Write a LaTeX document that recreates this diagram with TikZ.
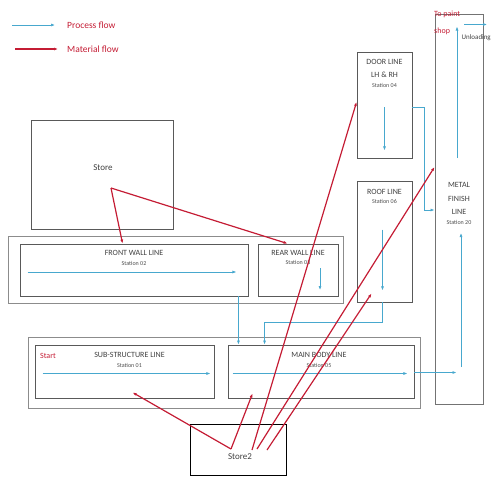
\documentclass[tikz,border=0pt]{standalone}
\usepackage{fontspec}
\setmainfont{Carlito}
\usepackage{tikz}
\usetikzlibrary{arrows.meta,calc,fit,positioning}
\definecolor{procblue}{RGB}{72,168,206}
\definecolor{matred}{RGB}{196,28,52}

\begin{document}
\begin{tikzpicture}[x=1pt,y=-1pt,>={Latex[length=4pt,width=3pt]},
  box/.style={draw=black!65,line width=0.9pt,inner sep=0pt},
  frame/.style={draw=black!45,line width=1pt,inner sep=0pt},
  ttl/.style={font=\fontsize{8}{13.5}\selectfont,text=black!75,align=center,inner sep=0.5pt},
  stn/.style={font=\fontsize{6}{7}\selectfont,text=black!70,inner sep=0.5pt},
  lgd/.style={font=\fontsize{9.5}{17}\selectfont,text=matred,inner sep=0pt,align=left},
  proc/.style={->,procblue,line width=0.7pt},
  mat/.style={->,matred,line width=1.2pt}]
\useasboundingbox (0,0) rectangle (494,477);
% legend
\node[lgd,anchor=west] (lgp) at (67,25) {Process flow};
\node[lgd,anchor=west] (lgm) at (67,49) {Material flow};
\draw[proc] ([xshift=-55pt]lgp.west) -- ([xshift=-12pt]lgp.west);
\draw[mat] ([xshift=-52pt]lgm.west) -- ([xshift=-9pt]lgm.west);
% stores
\node[box,fit={(31,120) (173,229)}] (store) {};
\node[ttl,font=\fontsize{9}{10}\selectfont] at (103,168) {Store};
\node[box,draw=black,fit={(190,424) (286,475)}] (store2) {};
\node[ttl,font=\fontsize{9}{10}\selectfont] at (240,457) {Store2};
% lines
\node[frame,fit={(8,236) (343,303)}] (row1) {};
\node[box,fit={(20,244) (248,296)}] (fwall) {};
\node[box,fit={(258,244) (338,296)}] (rwall) {};
\node[frame,fit={(28,337) (420,408)}] (row2) {};
\node[box,fit={(35,345) (214,398)}] (subs) {};
\node[box,fit={(228,345) (414,398)}] (mbody) {};
\node[box,fit={(357,52) (412,158)}] (door) {};
\node[box,fit={(357,181) (412,302)}] (roof) {};
\node[frame,draw=black!55,fit={(435,14) (483,404)}] (metal) {};
% titles
\node[ttl,below=6.5pt of fwall.north] (fwallt) {FRONT WALL LINE};
\node[stn,below=3.5pt of fwallt] {Station 02};
\node[ttl,below=6.5pt of rwall.north] (rwallt) {REAR WALL LINE};
\node[stn,below=3.5pt of rwallt] {Station 03};
\node[ttl,below=7pt of door.north] (doort) {DOOR LINE\\LH \& RH};
\node[stn,below=3.5pt of doort] {Station 04};
\node[ttl,below=8pt of roof.north] (rooft) {ROOF LINE};
\node[stn,below=3.5pt of rooft] {Station 06};
\node[ttl,below=7.5pt of subs.north,xshift=5pt] (subst) {SUB-STRUCTURE LINE};
\node[stn,below=3.5pt of subst] {Station 01};
\node[ttl,below=7.5pt of mbody.north,xshift=-2pt] (mbodyt) {MAIN BODY LINE};
\node[stn,below=3.5pt of mbodyt] {Station 05};
\node[ttl] (metalt) at (459,198.5) {METAL\\FINISH\\LINE};
\node[stn,below=4pt of metalt] {Station 20};
\node[lgd,font=\fontsize{8}{9}\selectfont,anchor=west] (start) at (40,356) {Start};
\node[lgd,font=\fontsize{8}{17}\selectfont,anchor=north west] (paint) at (434,11) {To paint\\shop};
\node[ttl,font=\fontsize{7}{8}\selectfont,anchor=west] (unload) at (461,38) {Unloading};
% process flow
\draw[proc] ($(fwall.west)+(8,2)$) -- ($(fwall.east)+(-12,2)$);
\draw[proc] ($(rwall.center)+(22,-2)$) -- ($(rwall.center)+(22,20)$);
\draw[proc] ($(door.center)+(0,2)$) -- ($(door.south)+(0,-8)$);
\draw[proc] ($(roof.center)+(-2,-12)$) -- ($(roof.south)+(-2,-12)$);
\draw[proc] ($(subs.west)+(8,2)$) -- ($(subs.east)+(-4,2)$);
\draw[proc] ($(mbody.west)+(5,2)$) -- ($(mbody.east)+(-7,2)$);
\draw[proc] ([xshift=-10pt]fwall.south east) -- ([xshift=-10pt]fwall.south east |- mbody.north);
\draw[proc] ([xshift=-2pt]roof.south) -- ++(0,20) -| ([xshift=37pt]mbody.north west);
\draw[proc] ([yshift=-2pt]door.east) -- ++(12,0) |- ([yshift=-1pt]metal.west);
\draw[proc] ([yshift=-1pt]mbody.east) -- ([xshift=22pt,yshift=-1pt]mbody.east -| metal.west);
\draw[proc] ($(metal.center)+(2,158)$) -- ($(metal.center)+(2,24)$);
\draw[proc] ($(metal.center)+(-2,-51)$) -- ($(metal.north)+(-2,13)$);
\draw[proc] ($(metal.north)+(5,11)$) -- ++(23,0);
% material flow
\coordinate (st) at (111,188);
\coordinate (s2a) at (231,449);
\coordinate (s2b) at (252,450);
\coordinate (s2c) at (257,449);
\coordinate (s2d) at (267,450);
\draw[mat] (st) -- ([xshift=103pt]fwall.north west);
\draw[mat] (st) -- ([xshift=30pt]rwall.north west);
\draw[mat] (s2a) -- ([xshift=98pt,yshift=6pt]subs.south west);
\draw[mat] (s2a) -- ([xshift=25pt,yshift=5pt]mbody.south west);
\draw[mat] (s2b) -- ([yshift=3pt]door.west);
\draw[mat] (s2c) -- ([yshift=42pt]metal.west);
\draw[mat] (s2d) -- ([xshift=15pt,yshift=9pt]roof.south west);
\end{tikzpicture}
\end{document}
